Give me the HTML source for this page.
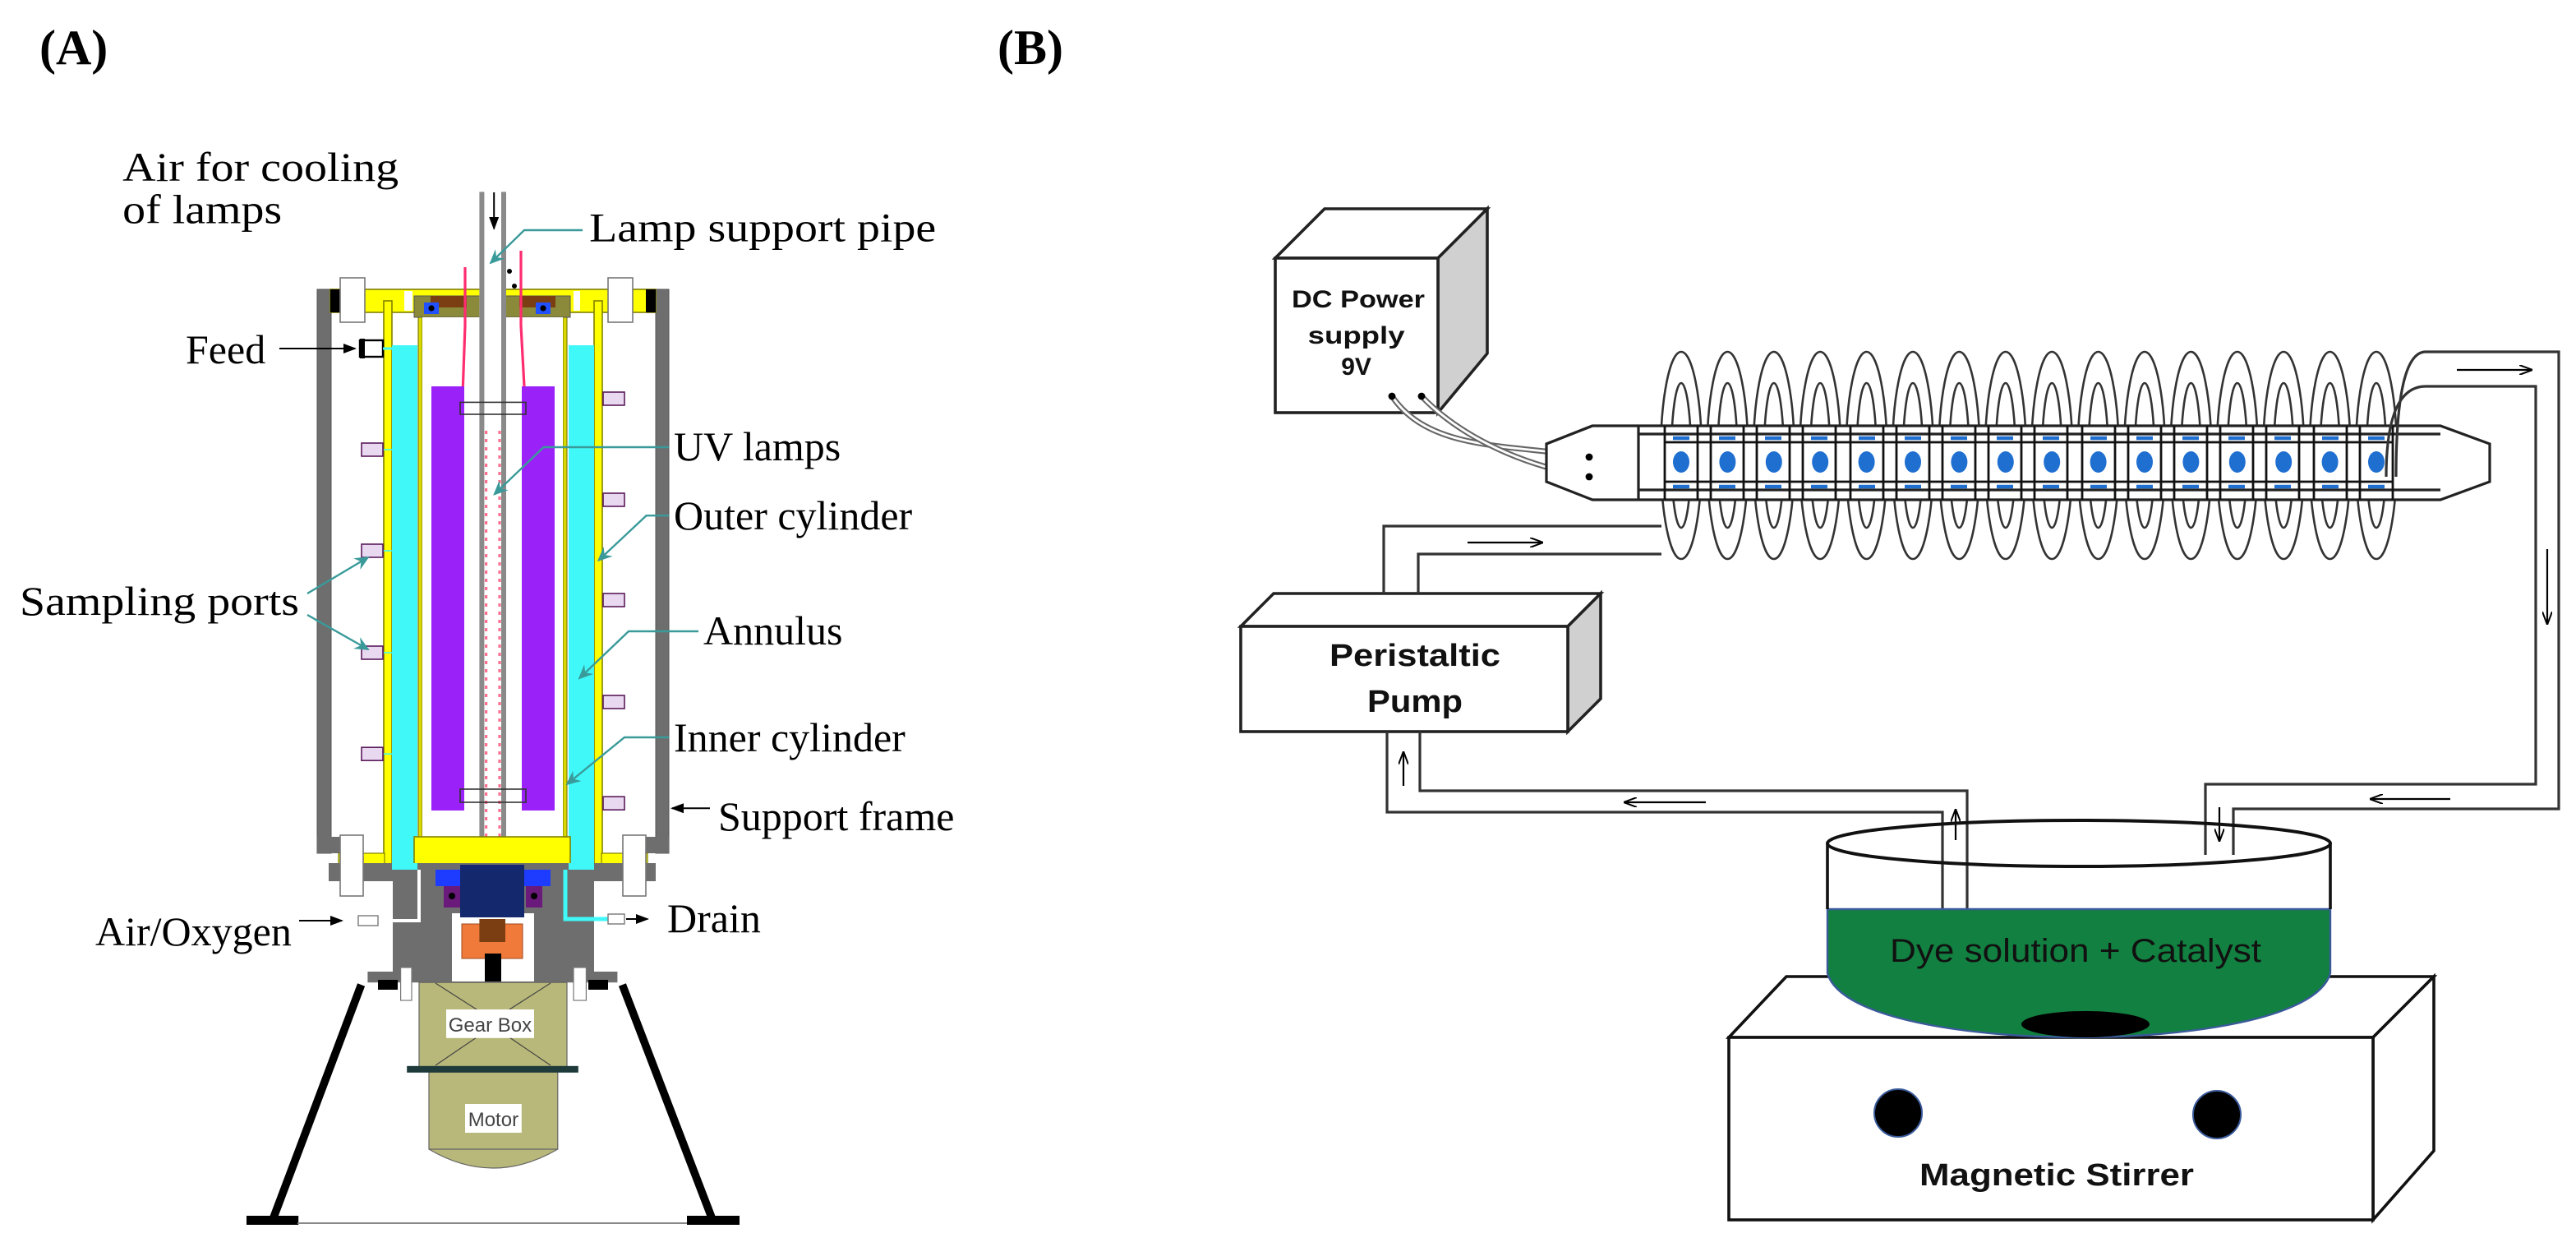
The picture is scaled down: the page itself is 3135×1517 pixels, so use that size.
<!DOCTYPE html>
<html><head><meta charset="utf-8"><style>
html,body{margin:0;padding:0;background:#fff;}
svg{display:block;}
.t{font-family:"Liberation Serif",serif;font-size:25px;fill:#000;}
.s{font-family:"Liberation Sans Narrow","Liberation Sans",sans-serif;font-weight:bold;fill:#111;}
</style></head><body>
<svg width="3135" height="1517" viewBox="0 0 1567.5 758.5" xmlns="http://www.w3.org/2000/svg">
<defs>
<marker id="ab" markerWidth="8" markerHeight="8" refX="7" refY="4" orient="auto" markerUnits="userSpaceOnUse"><path d="M0,1 L8,4 L0,7 Z" fill="#000"/></marker>
<marker id="at" markerWidth="9" markerHeight="8" refX="8" refY="4" orient="auto" markerUnits="userSpaceOnUse"><path d="M0,0 L9,4 L0,8 L3,4 Z" fill="#3a9a9a"/></marker>
<marker id="ah" markerWidth="8" markerHeight="6" refX="8" refY="3" orient="auto" markerUnits="userSpaceOnUse"><path d="M0,0 L8,3 L0,6" fill="none" stroke="#000" stroke-width="1"/></marker>
</defs>

<!-- Panel labels -->
<text x="24" y="39" font-family="Liberation Serif,serif" font-weight="bold" font-size="30">(A)</text>
<text x="607" y="39" font-family="Liberation Serif,serif" font-weight="bold" font-size="30">(B)</text>

<!-- ============ PANEL A ============ -->
<!-- outer frame -->
<rect x="193" y="176" width="8.5" height="343" fill="#6e6e6e" stroke="#555" stroke-width="0.5"/>
<rect x="399" y="176" width="8" height="343" fill="#6e6e6e" stroke="#555" stroke-width="0.5"/>
<rect x="193" y="509" width="27" height="10" fill="#6e6e6e"/>
<rect x="380" y="509" width="27" height="10" fill="#6e6e6e"/>
<!-- top plate -->
<rect x="201" y="176" width="198" height="14" fill="#ffff00" stroke="#808000" stroke-width="0.8"/>
<rect x="201" y="176" width="6" height="14" fill="#000"/>
<rect x="393" y="176" width="6" height="14" fill="#000"/>
<rect x="246" y="177" width="5" height="12" fill="#fff"/>
<rect x="349" y="177" width="4" height="12" fill="#fff"/>
<!-- yellow walls -->
<rect x="233.5" y="183" width="5" height="346" fill="#ffff00" stroke="#808000" stroke-width="0.8"/>
<rect x="361.5" y="183" width="5" height="346" fill="#ffff00" stroke="#808000" stroke-width="0.8"/>
<!-- cyan annulus -->
<rect x="238.5" y="210" width="15.5" height="319" fill="#40f8f8"/>
<rect x="346" y="210" width="15.5" height="319" fill="#40f8f8"/>
<!-- inner cylinder -->
<rect x="254.5" y="190" width="2.5" height="324" fill="#d8d800" stroke="#6a6a00" stroke-width="0.5"/>
<rect x="342.5" y="190" width="2.5" height="324" fill="#d8d800" stroke="#6a6a00" stroke-width="0.5"/>
<!-- top cap -->
<rect x="252" y="180" width="95" height="13" fill="#8a8a3a" stroke="#555" stroke-width="0.5"/>
<rect x="262" y="180" width="22" height="7" fill="#7a3e12"/>
<rect x="316" y="180" width="22" height="7" fill="#7a3e12"/>
<rect x="258" y="184" width="9" height="7" fill="#2050ff"/><circle cx="262.5" cy="187.5" r="1.8" fill="#000"/>
<rect x="326" y="184" width="9" height="7" fill="#2050ff"/><circle cx="330.5" cy="187.5" r="1.8" fill="#000"/>
<rect x="257" y="193" width="85.5" height="316" fill="#fff"/>
<!-- lamps -->
<rect x="262.5" y="235" width="20" height="258" fill="#9a22f8"/>
<rect x="317.5" y="235" width="20" height="258" fill="#9a22f8"/>
<!-- pipe -->
<rect x="291.7" y="116.7" width="16.3" height="393" fill="#fff"/>
<rect x="291.7" y="116.7" width="3" height="393" fill="#8a8a8a"/>
<rect x="305" y="116.7" width="3" height="393" fill="#8a8a8a"/>
<line x1="295.8" y1="262" x2="295.8" y2="509" stroke="#ff7090" stroke-width="1.6" stroke-dasharray="2 3"/>
<line x1="304" y1="262" x2="304" y2="509" stroke="#ff7090" stroke-width="1.6" stroke-dasharray="2 3"/>
<path d="M291.7,509 L300,517 L308,509 Z" fill="#999"/>
<rect x="280" y="244.7" width="40" height="7.3" fill="none" stroke="#333" stroke-width="0.8"/>
<rect x="280" y="480" width="40" height="8" fill="none" stroke="#333" stroke-width="0.8"/>
<polyline points="283,162.5 283,198 281.7,235" fill="none" stroke="#ff2d6f" stroke-width="1.6"/>
<polyline points="317,152.5 317,198 319,235" fill="none" stroke="#ff2d6f" stroke-width="1.6"/>
<circle cx="310" cy="165" r="1.5" fill="#000"/><circle cx="313" cy="174" r="1.5" fill="#000"/>
<!-- base yellow -->
<rect x="252" y="509" width="95" height="17" fill="#ffff00" stroke="#808000" stroke-width="0.8"/>
<rect x="206" y="519" width="28" height="10" fill="#ffff00" stroke="#808000" stroke-width="0.6"/>
<rect x="366" y="519" width="28" height="10" fill="#ffff00" stroke="#808000" stroke-width="0.6"/>
<!-- bolts -->
<rect x="207" y="169" width="15" height="27" fill="#fff" stroke="#777" stroke-width="0.8"/>
<rect x="370" y="169" width="15" height="27" fill="#fff" stroke="#777" stroke-width="0.8"/>
<!-- lower housing -->
<rect x="200" y="525" width="199" height="11" fill="#6e6e6e"/>
<rect x="239" y="529" width="122.5" height="62" fill="#6e6e6e"/>
<rect x="223.7" y="591" width="152" height="6.6" fill="#6e6e6e"/>
<rect x="207" y="508" width="14" height="37" fill="#fff" stroke="#777" stroke-width="0.8"/>
<rect x="379" y="508" width="14" height="37" fill="#fff" stroke="#777" stroke-width="0.8"/>
<rect x="238.5" y="525" width="15.5" height="4" fill="#40f8f8"/>
<rect x="346" y="525" width="15.5" height="4" fill="#40f8f8"/>
<rect x="275" y="555.5" width="50" height="41.5" fill="#fff"/>
<rect x="265" y="529" width="70" height="10" fill="#1e3cff"/>
<rect x="280" y="526" width="39" height="32" fill="#14286e"/>
<rect x="270" y="539" width="10" height="13" fill="#6a1a7a"/><circle cx="275" cy="545" r="2" fill="#000"/>
<rect x="320" y="539" width="10" height="13" fill="#6a1a7a"/><circle cx="325" cy="545" r="2" fill="#000"/>
<rect x="281" y="562" width="37" height="21" fill="#f07a3a" stroke="#a04a20" stroke-width="0.5"/>
<rect x="291.7" y="559" width="15.8" height="14" fill="#7a3e12"/>
<rect x="295" y="580" width="10" height="17" fill="#000"/>
<rect x="230" y="596" width="12" height="6" fill="#000"/>
<rect x="358" y="596" width="12" height="6" fill="#000"/>
<!-- drain and air pipes -->
<polyline points="344,529 344,559 371,559" fill="none" stroke="#40f8f8" stroke-width="2.5"/>
<rect x="370" y="556" width="10" height="6" fill="#fff" stroke="#777" stroke-width="0.7"/>
<line x1="381" y1="559" x2="394" y2="559" stroke="#000" stroke-width="1" marker-end="url(#ab)"/>
<polyline points="230,560 255,560 255,529" fill="none" stroke="#fff" stroke-width="2"/>
<rect x="218" y="557" width="12" height="6" fill="#fff" stroke="#777" stroke-width="0.7"/>
<line x1="182" y1="560" x2="208" y2="560" stroke="#000" stroke-width="1" marker-end="url(#ab)"/>
<!-- feed -->
<rect x="219" y="207" width="14" height="10" fill="#fff" stroke="#000" stroke-width="1.2"/>
<rect x="219" y="206" width="3" height="12" fill="#000"/>
<line x1="233" y1="212" x2="239" y2="212" stroke="#40f8f8" stroke-width="1.5"/>
<line x1="170" y1="212" x2="216" y2="212" stroke="#000" stroke-width="1" marker-end="url(#ab)"/>
<!-- sampling ports -->
<g stroke-width="0.8">
<line x1="233" y1="273.5" x2="239" y2="273.5" stroke="#40f8f8"/><rect x="220" y="269.5" width="13" height="8" fill="#e8d8f0" stroke="#5a1a5a"/>
<line x1="233" y1="335" x2="239" y2="335" stroke="#40f8f8"/><rect x="220" y="331" width="13" height="8" fill="#e8d8f0" stroke="#5a1a5a"/>
<line x1="233" y1="397" x2="239" y2="397" stroke="#40f8f8"/><rect x="220" y="393" width="13" height="8" fill="#e8d8f0" stroke="#5a1a5a"/>
<line x1="233" y1="458.6" x2="239" y2="458.6" stroke="#40f8f8"/><rect x="220" y="454.6" width="13" height="8" fill="#e8d8f0" stroke="#5a1a5a"/>
<rect x="367" y="238.5" width="13" height="8" fill="#e8d8f0" stroke="#5a1a5a"/>
<rect x="367" y="300" width="13" height="8" fill="#e8d8f0" stroke="#5a1a5a"/>
<rect x="367" y="361" width="13" height="8" fill="#e8d8f0" stroke="#5a1a5a"/>
<rect x="367" y="423" width="13" height="8" fill="#e8d8f0" stroke="#5a1a5a"/>
<rect x="367" y="484.6" width="13" height="8" fill="#e8d8f0" stroke="#5a1a5a"/>
</g>
<!-- stand -->
<polyline points="219.8,599 166.3,741" fill="none" stroke="#000" stroke-width="4.8"/>
<polyline points="378.7,599 433.2,741" fill="none" stroke="#000" stroke-width="4.8"/>
<rect x="150" y="739.5" width="31.6" height="5.5" fill="#000"/>
<rect x="418" y="739.5" width="32" height="5.5" fill="#000"/>
<line x1="181" y1="744" x2="418" y2="744" stroke="#888" stroke-width="1"/>
<!-- gearbox & motor -->
<rect x="255" y="597.6" width="90" height="52" fill="#b8b87a" stroke="#666" stroke-width="0.6"/>
<g stroke="#444" stroke-width="0.6"><line x1="265" y1="598" x2="290" y2="614"/><line x1="335" y1="598" x2="310" y2="614"/><line x1="265" y1="648" x2="290" y2="631"/><line x1="335" y1="648" x2="310" y2="631"/></g>
<rect x="243.8" y="588.5" width="6.7" height="20" fill="#fff" stroke="#777" stroke-width="0.6"/>
<rect x="349" y="588.5" width="7.7" height="20" fill="#fff" stroke="#777" stroke-width="0.6"/>
<rect x="271.5" y="614" width="53.5" height="17.4" fill="#fff"/>
<text x="298.2" y="627.5" text-anchor="middle" font-family="Liberation Sans,sans-serif" font-size="12" fill="#444">Gear Box</text>
<path d="M261,652 H339.4 V699 Q300,722 261,699 Z" fill="#b8b87a" stroke="#666" stroke-width="0.6"/>
<line x1="261" y1="699" x2="339.4" y2="699" stroke="#666" stroke-width="0.6"/>
<rect x="247.6" y="648.4" width="104.3" height="4" fill="#1e3a3a"/>
<rect x="283" y="671.5" width="34.4" height="17.5" fill="#fff"/>
<text x="300.2" y="685" text-anchor="middle" font-family="Liberation Sans,sans-serif" font-size="12" fill="#444">Motor</text>
<!-- air inlet arrow -->
<line x1="300.6" y1="117" x2="300.6" y2="139" stroke="#000" stroke-width="1" marker-end="url(#ab)"/>
<!-- labels A -->
<text class="t" x="74.6" y="110" textLength="168" lengthAdjust="spacingAndGlyphs">Air for cooling</text>
<text class="t" x="74.6" y="135.8" textLength="97" lengthAdjust="spacingAndGlyphs">of lamps</text>
<text class="t" x="358.6" y="146.7" textLength="211" lengthAdjust="spacingAndGlyphs">Lamp support pipe</text>
<polyline points="354.5,140 319,140 298.5,160" fill="none" stroke="#3a9a9a" stroke-width="1.2" marker-end="url(#at)"/>
<text class="t" x="113" y="221">Feed</text>
<text class="t" x="410" y="280">UV lamps</text>
<polyline points="407,272 330.8,272 300.8,300.7" fill="none" stroke="#3a9a9a" stroke-width="1.2" marker-end="url(#at)"/>
<text class="t" x="410" y="322">Outer cylinder</text>
<polyline points="407,313.6 393.3,313.6 364.2,340.9" fill="none" stroke="#3a9a9a" stroke-width="1.2" marker-end="url(#at)"/>
<text class="t" x="428" y="392">Annulus</text>
<polyline points="425,384 382.5,384 352.5,412.6" fill="none" stroke="#3a9a9a" stroke-width="1.2" marker-end="url(#at)"/>
<text class="t" x="410" y="457">Inner cylinder</text>
<polyline points="407,448.5 380,448.5 345,477" fill="none" stroke="#3a9a9a" stroke-width="1.2" marker-end="url(#at)"/>
<text class="t" x="437" y="505">Support frame</text>
<line x1="432" y1="491.6" x2="409" y2="491.6" stroke="#000" stroke-width="1" marker-end="url(#ab)"/>
<text class="t" x="12" y="374" textLength="170" lengthAdjust="spacingAndGlyphs">Sampling ports</text>
<line x1="187" y1="361" x2="224" y2="339" stroke="#3a9a9a" stroke-width="1.2" marker-end="url(#at)"/>
<line x1="187" y1="374" x2="224" y2="395" stroke="#3a9a9a" stroke-width="1.2" marker-end="url(#at)"/>
<text class="t" x="58" y="575">Air/Oxygen</text>
<text class="t" x="406" y="567">Drain</text>

<!-- ============ PANEL B ============ -->
<g fill="none" stroke="#222" stroke-width="1.8" stroke-linejoin="miter">
<!-- DC box -->
<polygon points="776,157 875,157 905,127 806,127" fill="#fff"/>
<polygon points="875,157 905,127 905,215 875,251" fill="#d0d0d0"/>
<rect x="776" y="157" width="99" height="94" fill="#fff"/>
<!-- pump -->
<polygon points="755,381 775,361 974,361 954,381" fill="#fff"/>
<polygon points="954,381 974,361 974,425 954,445" fill="#d0d0d0"/>
<rect x="755" y="381" width="199" height="64" fill="#fff"/>
<!-- wires -->
</g>
<g fill="none" stroke-linecap="round">
<path d="M847,241 C870,275 920,270 967,278" stroke="#666" stroke-width="3.5"/>
<path d="M847,241 C870,275 920,270 967,278" stroke="#fff" stroke-width="1.4"/>
<path d="M865,241 C885,262 920,282 967,290" stroke="#666" stroke-width="3.5"/>
<path d="M865,241 C885,262 920,282 967,290" stroke="#fff" stroke-width="1.4"/>
</g>
<circle cx="847" cy="241" r="2.2" fill="#000"/><circle cx="865" cy="241" r="2.2" fill="#000"/>
<text class="s" x="826.5" y="187" text-anchor="middle" font-size="15" textLength="81" lengthAdjust="spacingAndGlyphs">DC Power</text>
<text class="s" x="825.3" y="209" text-anchor="middle" font-size="15" textLength="59" lengthAdjust="spacingAndGlyphs">supply</text>
<text class="s" x="825.3" y="228" text-anchor="middle" font-size="15">9V</text>
<text class="s" x="861" y="405" text-anchor="middle" font-size="19" textLength="104" lengthAdjust="spacingAndGlyphs">Peristaltic</text>
<text class="s" x="861" y="433" text-anchor="middle" font-size="19" textLength="58" lengthAdjust="spacingAndGlyphs">Pump</text>

<!-- coil loops (back) -->
<g fill="none" stroke="#333" stroke-width="1.3" id="coils">
<ellipse cx="1023" cy="277" rx="12.5" ry="63"/><ellipse cx="1023" cy="277" rx="6" ry="44"/>
<ellipse cx="1051.2" cy="277" rx="12.5" ry="63"/><ellipse cx="1051.2" cy="277" rx="6" ry="44"/>
<ellipse cx="1079.4" cy="277" rx="12.5" ry="63"/><ellipse cx="1079.4" cy="277" rx="6" ry="44"/>
<ellipse cx="1107.6" cy="277" rx="12.5" ry="63"/><ellipse cx="1107.6" cy="277" rx="6" ry="44"/>
<ellipse cx="1135.8" cy="277" rx="12.5" ry="63"/><ellipse cx="1135.8" cy="277" rx="6" ry="44"/>
<ellipse cx="1164" cy="277" rx="12.5" ry="63"/><ellipse cx="1164" cy="277" rx="6" ry="44"/>
<ellipse cx="1192.2" cy="277" rx="12.5" ry="63"/><ellipse cx="1192.2" cy="277" rx="6" ry="44"/>
<ellipse cx="1220.4" cy="277" rx="12.5" ry="63"/><ellipse cx="1220.4" cy="277" rx="6" ry="44"/>
<ellipse cx="1248.6" cy="277" rx="12.5" ry="63"/><ellipse cx="1248.6" cy="277" rx="6" ry="44"/>
<ellipse cx="1276.8" cy="277" rx="12.5" ry="63"/><ellipse cx="1276.8" cy="277" rx="6" ry="44"/>
<ellipse cx="1305" cy="277" rx="12.5" ry="63"/><ellipse cx="1305" cy="277" rx="6" ry="44"/>
<ellipse cx="1333.2" cy="277" rx="12.5" ry="63"/><ellipse cx="1333.2" cy="277" rx="6" ry="44"/>
<ellipse cx="1361.4" cy="277" rx="12.5" ry="63"/><ellipse cx="1361.4" cy="277" rx="6" ry="44"/>
<ellipse cx="1389.6" cy="277" rx="12.5" ry="63"/><ellipse cx="1389.6" cy="277" rx="6" ry="44"/>
<ellipse cx="1417.8" cy="277" rx="12.5" ry="63"/><ellipse cx="1417.8" cy="277" rx="6" ry="44"/>
<ellipse cx="1446" cy="277" rx="12.5" ry="63"/><ellipse cx="1446" cy="277" rx="6" ry="44"/>
</g>
<!-- hex tube -->
<g fill="#fff" stroke="#222" stroke-width="1.6">
<polygon points="941,270 969,259 1485,259 1515,270 1515,293 1485,304 969,304 941,293"/>
<line x1="997" y1="259" x2="997" y2="304"/>
<line x1="997" y1="264" x2="1485" y2="264"/>
<line x1="997" y1="298" x2="1485" y2="298"/>
<line x1="941" y1="270" x2="969" y2="259" fill="none"/>
</g>
<circle cx="967" cy="278" r="2.2" fill="#000"/><circle cx="967" cy="290" r="2.2" fill="#000"/>
<!-- per-loop elements -->
<g id="cells">
<g stroke="#111" stroke-width="1.4" fill="none">
<path d="M1013,259V304M1033,259V304M1041,259V304M1061,259V304M1069,259V304M1089,259V304M1097,259V304M1117,259V304M1126,259V304M1146,259V304M1154,259V304M1174,259V304M1182,259V304M1202,259V304M1210,259V304M1230,259V304M1238,259V304M1258,259V304M1267,259V304M1287,259V304M1295,259V304M1315,259V304M1323,259V304M1343,259V304M1351,259V304M1371,259V304M1379,259V304M1399,259V304M1408,259V304M1428,259V304M1436,259V304M1456,259V304"/>
<path d="M1013,269H1456M1013,293H1456"/>
</g>
<g fill="#1f6fd0">
<ellipse cx="1023" cy="281" rx="5" ry="6.5"/><ellipse cx="1051.2" cy="281" rx="5" ry="6.5"/><ellipse cx="1079.4" cy="281" rx="5" ry="6.5"/><ellipse cx="1107.6" cy="281" rx="5" ry="6.5"/><ellipse cx="1135.8" cy="281" rx="5" ry="6.5"/><ellipse cx="1164" cy="281" rx="5" ry="6.5"/><ellipse cx="1192.2" cy="281" rx="5" ry="6.5"/><ellipse cx="1220.4" cy="281" rx="5" ry="6.5"/><ellipse cx="1248.6" cy="281" rx="5" ry="6.5"/><ellipse cx="1276.8" cy="281" rx="5" ry="6.5"/><ellipse cx="1305" cy="281" rx="5" ry="6.5"/><ellipse cx="1333.2" cy="281" rx="5" ry="6.5"/><ellipse cx="1361.4" cy="281" rx="5" ry="6.5"/><ellipse cx="1389.6" cy="281" rx="5" ry="6.5"/><ellipse cx="1417.8" cy="281" rx="5" ry="6.5"/><ellipse cx="1446" cy="281" rx="5" ry="6.5"/>
</g>
<g stroke="#1f6fd0" stroke-width="2.2">
<path d="M1018,266.5h10M1046,266.5h10M1074,266.5h10M1102,266.5h10M1131,266.5h10M1159,266.5h10M1187,266.5h10M1215,266.5h10M1243,266.5h10M1272,266.5h10M1300,266.5h10M1328,266.5h10M1356,266.5h10M1384,266.5h10M1413,266.5h10M1441,266.5h10"/>
<path d="M1018,296h10M1046,296h10M1074,296h10M1102,296h10M1131,296h10M1159,296h10M1187,296h10M1215,296h10M1243,296h10M1272,296h10M1300,296h10M1328,296h10M1356,296h10M1384,296h10M1413,296h10M1441,296h10"/>
</g>
</g>

<!-- tubing -->
<g fill="none" stroke="#333" stroke-width="1.6">
<path d="M842,361 V320 H1011"/>
<path d="M863,361 V337 H1011"/>
<path d="M1458,290 Q1458,214 1476,214 H1557 V492 H1359 V520"/>
<path d="M1452,290 Q1452,235 1476,235 H1543 V477 H1342 V520"/>
<path d="M844,445 V494 H1182 V559"/>
<path d="M864,445 V481 H1197 V559"/>
</g>
<!-- flow arrows -->
<g stroke="#000" stroke-width="1.1" fill="none">
<line x1="893" y1="330" x2="939" y2="330" marker-end="url(#ah)"/>
<line x1="1495" y1="225" x2="1541" y2="225" marker-end="url(#ah)"/>
<line x1="1550" y1="334" x2="1550" y2="380" marker-end="url(#ah)"/>
<line x1="1038" y1="488" x2="988" y2="488" marker-end="url(#ah)"/>
<line x1="1491" y1="486" x2="1442" y2="486" marker-end="url(#ah)"/>
<line x1="854" y1="478" x2="854" y2="457" marker-end="url(#ah)"/>
<line x1="1190" y1="511" x2="1190" y2="492" marker-end="url(#ah)"/>
<line x1="1350.5" y1="491" x2="1350.5" y2="512" marker-end="url(#ah)"/>
</g>

<!-- magnetic stirrer -->
<g stroke="#111" stroke-width="1.8">
<polygon points="1052,631 1087,594 1481,594 1444,631" fill="#fff"/>
<polygon points="1444,631 1481,594 1481,700 1444,742" fill="#fff"/>
<rect x="1052" y="631" width="392" height="111" fill="#fff"/>
</g>
<circle cx="1155" cy="677" r="14.5" fill="#000" stroke="#3a5a9a" stroke-width="1"/>
<circle cx="1349" cy="678" r="14.5" fill="#000" stroke="#3a5a9a" stroke-width="1"/>
<text class="s" x="1168" y="721" font-size="19" textLength="167" lengthAdjust="spacingAndGlyphs">Magnetic Stirrer</text>

<!-- beaker -->
<path d="M1112,553 H1418 V592 C1410,620 1330,631 1265,631 C1200,631 1120,620 1112,592 Z" fill="#128040" stroke="#3a5a9a" stroke-width="1.2"/>
<ellipse cx="1269" cy="623" rx="39" ry="8" fill="#000"/>
<line x1="1112" y1="513" x2="1112" y2="553" stroke="#111" stroke-width="1.8"/>
<line x1="1418" y1="513" x2="1418" y2="553" stroke="#111" stroke-width="1.8"/>
<ellipse cx="1265" cy="513" rx="153" ry="14" fill="none" stroke="#111" stroke-width="2"/>
<text class="s" x="1150" y="585" font-size="20" font-weight="normal" textLength="226" lengthAdjust="spacingAndGlyphs" style="font-weight:normal">Dye solution  + Catalyst</text>
</svg>
</body></html>
